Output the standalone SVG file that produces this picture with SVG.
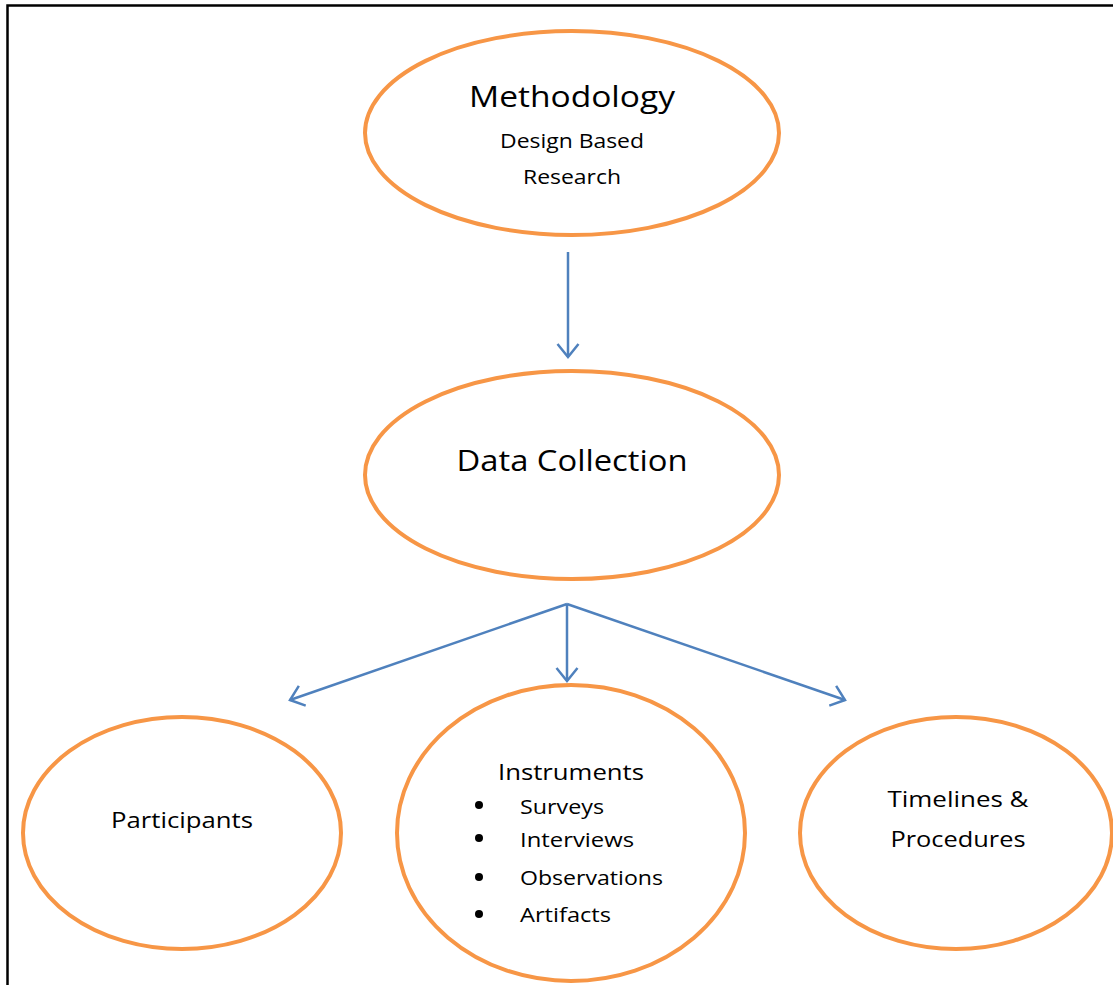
<svg xmlns="http://www.w3.org/2000/svg" width="1113" height="985" viewBox="0 0 1113 985">
  <defs>
    <marker id="vee" viewBox="0 0 16 24" refX="14" refY="12" markerWidth="16" markerHeight="24" markerUnits="userSpaceOnUse" orient="auto">
      <path d="M1,1.5 L14,12 L1,22.5" fill="none" stroke="#4F81BD" stroke-width="2.5"/>
    </marker>
    <style>
      .node { fill: #FFFFFF; stroke: #F79646; stroke-width: 4; }
      .link { stroke: #4F81BD; stroke-width: 2.5; fill: none; marker-end: url(#vee); }
      text { font-family: "Open Sans", "Liberation Sans", sans-serif; fill: #000000; }
      .title { font-size: 30px; text-anchor: middle; }
      .sub { font-size: 20px; text-anchor: middle; }
      .label { font-size: 21.5px; text-anchor: middle; }
      .item { font-size: 20px; }
    </style>
  </defs>
  <rect x="0" y="0" width="1113" height="985" fill="#FFFFFF"/>
  <!-- page frame -->
  <path d="M7.5,985 L7.5,5.5 L1113,5.5" fill="none" stroke="#000000" stroke-width="2.5"/>

  <g id="connectors">
    <line class="link" x1="568" y1="252" x2="568" y2="357"/>
    <line class="link" x1="567" y1="604" x2="290" y2="700"/>
    <line class="link" x1="567" y1="604" x2="567" y2="681"/>
    <line class="link" x1="567" y1="604" x2="845" y2="700"/>
  </g>

  <g id="methodology">
    <ellipse class="node" cx="572" cy="133" rx="207" ry="102"/>
    <text class="title" x="572" y="107" textLength="206" lengthAdjust="spacingAndGlyphs">Methodology</text>
    <text class="sub" x="572" y="148" textLength="144" lengthAdjust="spacingAndGlyphs">Design Based</text>
    <text class="sub" x="572" y="184" textLength="98" lengthAdjust="spacingAndGlyphs">Research</text>
  </g>

  <g id="data-collection">
    <ellipse class="node" cx="572" cy="475" rx="207" ry="104"/>
    <text class="title" x="572" y="471" textLength="231" lengthAdjust="spacingAndGlyphs">Data Collection</text>
  </g>

  <g id="participants">
    <ellipse class="node" cx="182" cy="833" rx="159" ry="116"/>
    <text class="label" x="182" y="828" textLength="142" lengthAdjust="spacingAndGlyphs">Participants</text>
  </g>

  <g id="instruments">
    <ellipse class="node" cx="571" cy="833" rx="174" ry="148"/>
    <text class="label" x="571" y="780" textLength="146" lengthAdjust="spacingAndGlyphs">Instruments</text>
    <circle cx="479" cy="805" r="4"/>
    <circle cx="479" cy="838" r="4"/>
    <circle cx="479" cy="877" r="4"/>
    <circle cx="479" cy="914" r="4"/>
    <text class="item" x="520" y="814" textLength="84" lengthAdjust="spacingAndGlyphs">Surveys</text>
    <text class="item" x="520" y="847" textLength="114" lengthAdjust="spacingAndGlyphs">Interviews</text>
    <text class="item" x="520" y="885" textLength="143" lengthAdjust="spacingAndGlyphs">Observations</text>
    <text class="item" x="520" y="922" textLength="91" lengthAdjust="spacingAndGlyphs">Artifacts</text>
  </g>

  <g id="timelines">
    <ellipse class="node" cx="956" cy="833" rx="156" ry="116"/>
    <text class="label" x="958" y="807" textLength="141" lengthAdjust="spacingAndGlyphs">Timelines &amp;</text>
    <text class="label" x="958" y="847" textLength="135" lengthAdjust="spacingAndGlyphs">Procedures</text>
  </g>
</svg>
